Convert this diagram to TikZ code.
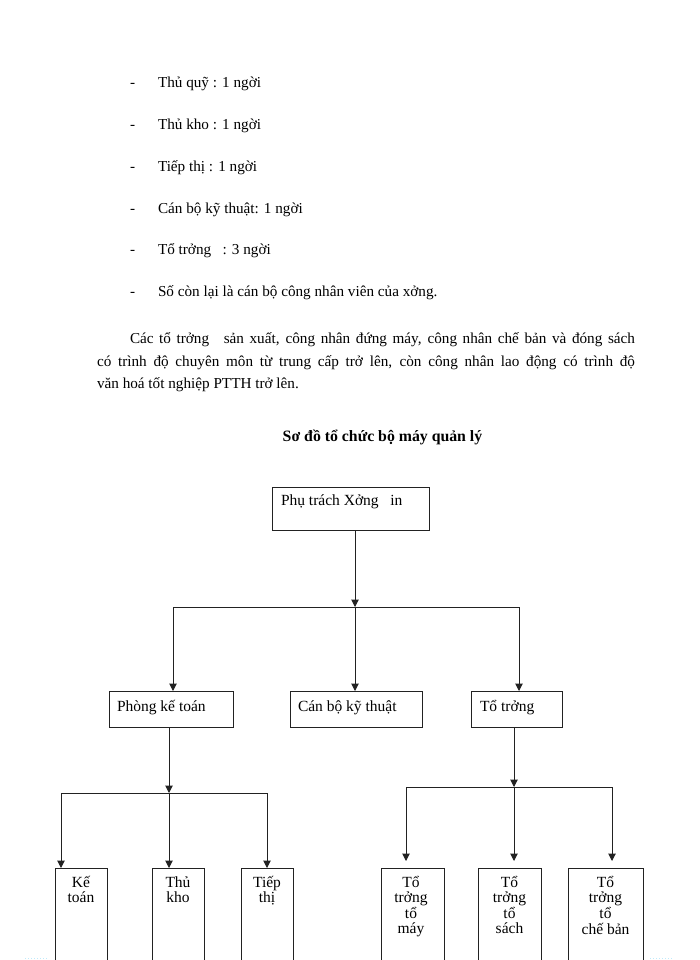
\documentclass[tikz,border=0pt]{standalone}
\usepackage{fontspec}
\setmainfont{Liberation Serif}
\usetikzlibrary{arrows.meta}
\newcommand\colstack[1]{\begin{tabular}[t]{@{}c@{}}#1\end{tabular}}
\definecolor{linec}{HTML}{222222}
\tikzset{
  every node/.style={inner sep=0pt, outer sep=0pt},
  box/.style={draw=linec, line width=1pt, anchor=north west},
  ln/.style={draw=linec, line width=1pt},
  arr/.style={draw=linec, line width=1pt, -{Triangle[length=7.5pt,width=7.5pt]}},
  body/.style={font=\fontsize{15.2}{18}\selectfont, anchor=base west},
  boxtxt/.style={font=\fontsize{15.5}{18}\selectfont, anchor=base west},
  coltxt/.style={font=\fontsize{15.5}{15.5}\selectfont, anchor=base},
  titletxt/.style={font=\bfseries\fontsize{15.8}{18}\selectfont, anchor=base},
  faint/.style={draw=cyan!25, dotted, line width=1pt}
}
\begin{document}
\begin{tikzpicture}[x=1pt,y=-1pt]
\useasboundingbox (0,0) rectangle (700,960);

% bullet list
\node[body] (i1) at (130,88)  {\makebox[28pt][l]{-}Thủ quỹ : 1 ngời};
\node[body] (i2) at (130,129.7) {\makebox[28pt][l]{-}Thủ kho : 1 ngời};
\node[body] (i3) at (130,171.4) {\makebox[28pt][l]{-}Tiếp thị : 1 ngời};
\node[body] (i4) at (130,213.1) {\makebox[28pt][l]{-}Cán bộ kỹ thuật: 1 ngời};
\node[body] (i5) at (130,254.8) {\makebox[28pt][l]{-}Tổ trởng\ \ \ : 3 ngời};
\node[body] (i6) at (130,296.5) {\makebox[28pt][l]{-}Số còn lại là cán bộ công nhân viên của xởng.};

% paragraph
\node[body] (p1) at (130,343) {\makebox[505pt][s]{Các tổ trởng\hspace{9pt} sản xuất, công nhân đứng máy, công nhân chế bản và đóng sách}};
\node[body] (p2) at (97,366) {\makebox[538pt][s]{có trình độ chuyên môn từ trung cấp trở lên, còn công nhân lao động có trình độ}};
\node[body] (p3) at (97,388.5) {văn hoá tốt nghiệp PTTH trở lên.};

% title
\node[titletxt] (title) at (382.5,441) {Sơ đồ tổ chức bộ máy quản lý};

% top box
\node[box, minimum width=157pt, minimum height=43pt] (top) at (272,487) {};
\node[boxtxt] (topt) at (281,505.5) {Phụ trách Xởng\ \ \ in};

% second level
\node[box, minimum width=124pt, minimum height=36pt] (pkt) at (109,691) {};
\node[boxtxt] (pktt) at (117,711) {Phòng kế toán};
\node[box, minimum width=132pt, minimum height=36pt] (cb) at (290,691) {};
\node[boxtxt] (cbt) at (298,711) {Cán bộ kỹ thuật};
\node[box, minimum width=91pt, minimum height=36pt] (tt) at (471,691) {};
\node[boxtxt] (ttt) at (480,711) {Tổ trởng};

% third level
\node[box, minimum width=52pt, minimum height=100pt] (kt) at (55,868) {};
\node[coltxt] (ktt) at (81,887) {\colstack{Kế\\toán}};
\node[box, minimum width=52pt, minimum height=100pt] (tk) at (152,868) {};
\node[coltxt] (tkt) at (178,887) {\colstack{Thủ\\kho}};
\node[box, minimum width=52pt, minimum height=100pt] (tth) at (241,868) {};
\node[coltxt] (ttht) at (267,887) {\colstack{Tiếp\\thị}};
\node[box, minimum width=63pt, minimum height=100pt] (tm) at (381,868) {};
\node[coltxt] (tmt) at (411,887) {\colstack{Tổ\\trởng\\tổ\\máy}};
\node[box, minimum width=63pt, minimum height=100pt] (ts) at (478,868) {};
\node[coltxt] (tst) at (509.5,887) {\colstack{Tổ\\trởng\\tổ\\sách}};
\node[box, minimum width=75pt, minimum height=100pt] (tcb) at (568,868) {};
\node[coltxt] (tcbt) at (605.5,887) {\colstack{Tổ\\trởng\\tổ\\chế bản}};

% connectors: top
\coordinate (j0) at (355,607);
\coordinate (bL) at (173,607);
\coordinate (bR) at (519,607);
\draw[arr] (top.south -| j0) -- (j0);
\draw[ln] (bL) -- (bR);
\draw[arr] (bL) -- (bL |- pkt.north);
\draw[arr] (j0) -- (j0 |- cb.north);
\draw[arr] (bR) -- (bR |- tt.north);

% connectors: left group
\coordinate (jL) at (169,793);
\coordinate (lL) at (61,793);
\coordinate (lR) at (267,793);
\draw[arr] (pkt.south -| jL) -- (jL);
\draw[ln] (lL) -- (lR);
\draw[arr] (lL) -- (lL |- kt.north);
\draw[arr] (jL) -- (jL |- tk.north);
\draw[arr] (lR) -- (lR |- tth.north);

% connectors: right group
\coordinate (jR) at (514,787);
\coordinate (rL) at (406,787);
\coordinate (rR) at (612,787);
\draw[arr] (tt.south -| jR) -- (jR);
\draw[ln] (rL) -- (rR);
\draw[arr, shorten >=7pt] (rL) -- (rL |- tm.north);
\draw[arr, shorten >=7pt] (jR) -- (jR |- ts.north);
\draw[arr, shorten >=7pt] (rR) -- (rR |- tcb.north);

% faint page marks
\draw[faint] (25,958) -- (47,958);
\draw[faint] (650,958) -- (672,958);
\end{tikzpicture}
\end{document}
